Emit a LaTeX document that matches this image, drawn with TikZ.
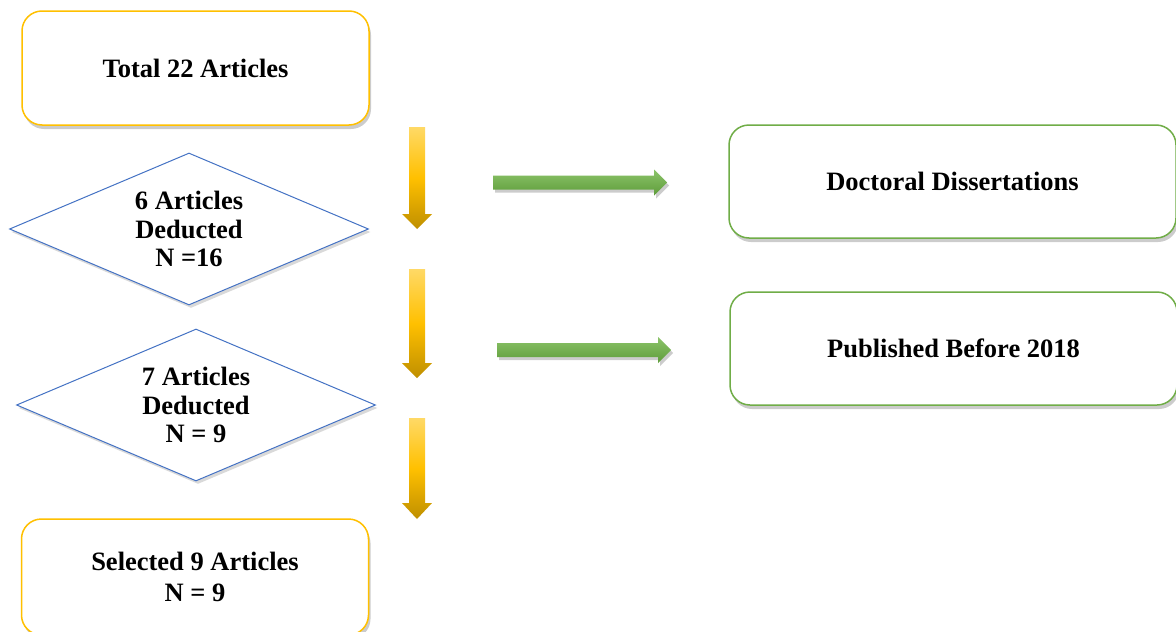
\documentclass[tikz,border=0pt]{standalone}
\usepackage{fontspec}
\setmainfont{Liberation Serif}
\usetikzlibrary{shapes.geometric,shadows}
\definecolor{ybord}{HTML}{FFC000}
\definecolor{ylight}{HTML}{FFD966}
\definecolor{ymid}{HTML}{FFC000}
\definecolor{ydark}{HTML}{BF8F00}
\definecolor{gbord}{HTML}{70AD47}
\definecolor{glight}{HTML}{8CC46A}
\definecolor{gdark}{HTML}{5E9C3A}
\definecolor{bbord}{HTML}{4472C4}
\tikzset{
  txt/.style={font=\fontsize{26.5}{31}\selectfont\bfseries, align=center, text=black},
  ybox/.style={txt, draw=ybord, line width=1.5pt, fill=white, rounded corners=20pt,
     minimum width=347pt, minimum height=114pt, inner sep=0pt,
     drop shadow={shadow xshift=2pt, shadow yshift=-4pt, opacity=0.2, fill=black}},
  gbox/.style={txt, draw=gbord, line width=1.5pt, fill=white, rounded corners=20pt,
     minimum width=447pt, minimum height=113pt, inner sep=0pt,
     drop shadow={shadow xshift=2pt, shadow yshift=-4pt, opacity=0.2, fill=black}},
  dbox/.style={txt, font=\fontsize{26.5}{28.5}\selectfont\bfseries, shape=diamond, draw=bbord, line width=1pt, fill=white,
     minimum width=359pt, minimum height=152pt, inner sep=0pt, aspect=2.36,
     drop shadow={shadow xshift=2pt, shadow yshift=-3pt, opacity=0.15, fill=black}},
  yarrow/.style={top color=ylight, bottom color=ydark, middle color=ymid},
  garrow/.style={top color=glight, bottom color=gdark,
     drop shadow={shadow xshift=2pt, shadow yshift=-3pt, opacity=0.2, fill=black}},
}
\begin{document}
\begin{tikzpicture}[x=1pt,y=-1pt]
\useasboundingbox (0,0) rectangle (1176,632);
\clip (0,0) rectangle (1176,632);
\fill[white] (0,0) rectangle (1176,632);

\node[ybox] (total) at (195.5,68) {Total 22 Articles};
\node[dbox] (d1) at (189,229) {6 Articles\\Deducted\\N =16};
\node[dbox] (d2) at (196,405) {7 Articles\\Deducted\\N = 9};
\node[ybox, minimum height=116pt] (sel) at (195,577) {Selected 9 Articles\\N = 9};

\node[gbox] (doc) at (952.5,181.5) {Doctoral Dissertations};
\node[gbox] (pub) at (953.5,348.5) {Published Before 2018};

% yellow down arrows
\coordinate (ya1) at (417,127);
\coordinate (ya2) at (417,269);
\coordinate (ya3) at (417,418);
\shade[yarrow] (ya1) ++(-8,0) -- ++(16,0) -- ++(0,87) -- ++(7,0) -- ++(-15,15) -- ++(-15,-15) -- ++(7,0) -- cycle;
\shade[yarrow] (ya2) ++(-8,0) -- ++(16,0) -- ++(0,94) -- ++(7,0) -- ++(-15,15) -- ++(-15,-15) -- ++(7,0) -- cycle;
\shade[yarrow] (ya3) ++(-8,0) -- ++(16,0) -- ++(0,85) -- ++(7,0) -- ++(-15,16) -- ++(-15,-16) -- ++(7,0) -- cycle;

% green right arrows
\coordinate (ga1) at (493,182.5);
\coordinate (ga2) at (497,350);
\shade[garrow] (ga1) ++(0,-7) -- ++(161,0) -- ++(0,-6) -- ++(13,13) -- ++(-13,13) -- ++(0,-6) -- ++(-161,0) -- cycle;
\shade[garrow] (ga2) ++(0,-7) -- ++(161,0) -- ++(0,-6) -- ++(13,13) -- ++(-13,13) -- ++(0,-6) -- ++(-161,0) -- cycle;
\end{tikzpicture}
\end{document}
